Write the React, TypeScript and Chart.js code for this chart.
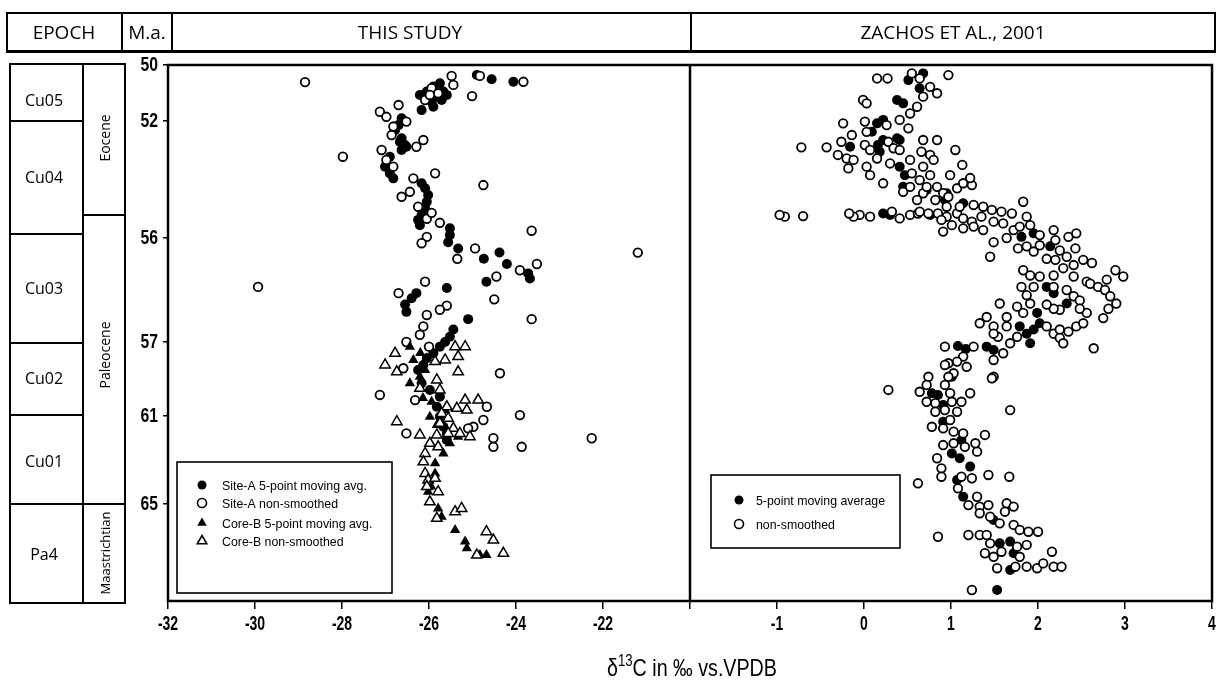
import React, { useEffect, useRef } from 'react';
import { Chart, LinearScale, registerables } from 'chart.js';

Chart.register(...registerables);

// ---------- data (x: δ13C ‰ VPDB, y: age Ma) ----------
const xTickValues = [-32, -30, -28, -26, -24, -22, -20, -1, 0, 1, 2, 3, 4];
const xTickLabels = ['-32', '-30', '-28', '-26', '-24', '-22', '', '-1', '0', '1', '2', '3', '4'];
const yTickValues = [50, 52, 56, 57, 61, 65];
const yTickLabels = ['50', '52', '56', '57', '61', '65'];
// piecewise axis breaks [value, fraction of axis]
const xStops = [[-32, 0], [-20, 0.5], [-2, 0.5], [4, 1]];
const yStops = [[50, 0], [52, 0.1045], [56, 0.3228], [57, 0.5168], [61, 0.6549], [65, 0.819], [69.41, 1]];

const siteAAvg = [[-24.90,50.36],[-24.56,50.51],[-24.06,50.60],[-25.75,50.65],[-25.90,50.77],[-26.05,50.95],[-25.67,50.95],[-26.21,51.07],[-25.59,51.07],[-25.82,51.13],[-25.71,51.25],[-25.94,51.31],[-25.90,51.49],[-26.17,51.61],[-26.63,51.90],[-26.70,52.14],[-26.78,52.31],[-26.63,52.59],[-26.67,52.71],[-26.52,52.88],[-26.55,52.82],[-26.63,52.99],[-26.90,53.22],[-27.01,53.56],[-26.90,53.79],[-26.82,53.96],[-26.17,54.13],[-26.09,54.30],[-26.02,54.53],[-26.05,54.76],[-26.09,54.98],[-26.17,55.21],[-26.25,55.38],[-26.21,55.56],[-25.52,55.67],[-25.52,55.90],[-25.56,56.04],[-25.33,56.10],[-24.74,56.20],[-24.38,56.14],[-24.21,56.25],[-23.72,56.34],[-23.68,56.39],[-24.68,56.42],[-25.59,56.48],[-26.29,56.53],[-26.40,56.58],[-26.55,56.64],[-26.52,56.71],[-25.10,56.78],[-25.44,56.88],[-25.52,56.95],[-25.63,57.00],[-25.75,57.25],[-25.90,57.61],[-26.05,57.88],[-26.13,58.24],[-26.25,58.51],[-26.17,59.23],[-25.98,59.59],[-25.75,59.96],[-25.82,60.50],[-25.75,61.03],[-25.67,61.49],[-25.59,61.79],[-25.59,62.09]];

const siteARaw = [[-25.48,50.39],[-25.44,50.71],[-24.83,50.39],[-23.83,50.60],[-25.01,51.11],[-25.94,50.83],[-25.79,51.01],[-26.09,51.25],[-25.98,51.07],[-27.13,51.67],[-26.70,51.43],[-26.98,51.85],[-26.52,52.02],[-26.82,52.19],[-26.86,52.48],[-26.13,52.65],[-26.29,52.88],[-27.09,52.99],[-26.98,53.33],[-26.82,53.56],[-25.86,53.79],[-26.36,53.96],[-26.44,54.42],[-26.63,54.59],[-26.25,54.93],[-24.75,54.19],[-26.05,55.34],[-25.94,55.14],[-25.75,55.48],[-26.05,55.96],[-26.17,56.05],[-23.64,55.75],[-24.94,56.10],[-25.35,56.20],[-23.91,56.31],[-23.52,56.25],[-24.45,56.37],[-24.50,56.59],[-26.09,56.42],[-26.70,56.53],[-25.59,56.65],[-25.75,56.69],[-26.05,56.74],[-23.64,56.78],[-28.85,50.61],[-27.98,53.22],[-29.93,56.47],[-21.20,56.14],[-26.13,56.85],[-26.21,56.93],[-26.52,57.00],[-26.00,57.25],[-27.13,59.86],[-24.37,58.69],[-26.32,60.14],[-24.67,60.50],[-23.91,60.95],[-26.52,61.79],[-24.75,61.18],[-24.98,61.49],[-25.10,61.56],[-24.52,62.01],[-24.52,62.40],[-23.87,62.40],[-22.26,62.01],[-26.59,58.42]];

const coreBAvg = [[-26.44,57.25],[-26.36,57.97],[-26.09,58.51],[-26.44,59.23],[-26.21,58.88],[-25.94,60.23],[-25.98,61.03],[-25.82,61.41],[-25.52,62.24],[-25.67,62.70],[-25.86,63.15],[-25.86,63.61],[-26.02,64.44],[-25.79,65.20],[-25.71,65.58],[-25.40,66.18],[-25.17,66.71],[-25.13,67.01],[-24.83,67.32],[-24.68,67.32],[-25.63,60.68],[-25.33,61.94],[-26.05,57.88],[-25.75,59.77],[-26.14,60.03],[-26.00,63.90],[-25.95,64.20],[-26.20,57.60]];

const coreBRaw = [[-26.78,57.61],[-27.01,58.24],[-26.74,58.61],[-25.40,57.25],[-25.17,57.25],[-25.33,57.79],[-25.33,58.61],[-25.63,57.97],[-25.86,58.06],[-25.82,59.05],[-26.21,59.50],[-25.75,59.59],[-25.59,60.50],[-25.36,60.58],[-25.17,60.14],[-25.13,60.68],[-24.87,60.14],[-25.71,60.86],[-25.56,61.10],[-25.75,61.33],[-25.44,61.56],[-25.29,61.79],[-25.06,61.94],[-25.56,61.79],[-25.82,61.86],[-25.98,62.24],[-25.79,62.40],[-26.74,61.26],[-26.21,61.86],[-26.09,62.70],[-26.13,63.08],[-26.09,63.61],[-26.02,63.91],[-25.86,63.83],[-26.05,64.21],[-25.79,64.44],[-25.98,64.90],[-25.82,65.65],[-25.40,65.35],[-25.25,65.20],[-24.68,66.26],[-24.52,66.64],[-24.29,67.24],[-24.90,67.32]];

const zachosRaw = [[0.15,50.48],[0.27,50.48],[0.55,50.30],[0.64,50.48],[0.97,50.36],[0.76,50.78],[0.84,51.01],[0.68,51.13],[0.61,51.49],[0.53,51.73],[0.41,51.96],[0.51,52.25],[-0.01,51.25],[0.03,51.37],[-0.24,52.08],[0.01,52.02],[0.26,52.14],[0.03,52.37],[-0.14,52.48],[-0.26,52.71],[-0.43,52.90],[-0.72,52.90],[-0.30,53.16],[-0.20,53.28],[-0.12,53.33],[-0.18,53.62],[0.01,52.82],[0.07,52.99],[0.28,52.71],[0.34,52.93],[0.41,52.99],[0.03,53.56],[0.07,53.85],[0.15,53.28],[0.22,54.13],[0.30,53.45],[0.53,53.33],[0.68,52.65],[0.84,52.65],[0.66,53.05],[0.76,53.16],[0.80,53.33],[0.68,53.56],[0.55,53.79],[0.45,54.42],[0.53,54.25],[0.64,54.02],[0.76,53.85],[0.68,54.47],[0.61,54.70],[0.84,54.25],[0.91,54.47],[0.82,54.70],[0.95,54.93],[0.74,55.16],[0.53,55.21],[0.41,55.33],[0.32,55.10],[0.07,55.27],[-0.05,55.21],[-0.12,55.27],[-0.17,55.16],[-0.70,55.25],[-0.91,55.27],[-0.97,55.21],[0.91,55.78],[0.62,55.16],[0.64,55.10],[0.72,54.25],[0.97,54.59],[1.07,54.30],[1.14,54.13],[1.24,54.19],[0.85,55.16],[0.95,55.27],[1.07,55.16],[1.10,54.93],[1.26,54.87],[1.14,55.33],[1.24,55.44],[1.35,55.27],[1.37,54.93],[1.47,55.04],[1.58,55.10],[1.70,55.16],[1.83,54.76],[1.87,55.27],[0.89,55.38],[1.01,55.56],[1.14,55.67],[1.26,55.61],[1.37,55.73],[1.49,55.44],[1.60,55.50],[1.49,56.04],[1.45,56.18],[1.64,56.00],[1.72,55.73],[1.79,55.61],[1.91,55.56],[2.02,55.90],[2.18,55.73],[2.20,56.02],[1.77,56.10],[1.87,56.08],[1.95,56.13],[2.02,56.07],[2.25,56.12],[2.35,55.96],[2.44,55.84],[2.43,56.10],[2.10,56.20],[2.20,56.21],[2.33,56.18],[2.52,56.21],[2.62,56.24],[2.41,56.26],[2.29,56.29],[1.83,56.31],[1.91,56.36],[2.02,56.37],[2.18,56.36],[2.41,56.37],[2.56,56.42],[2.89,56.31],[2.98,56.37],[2.79,56.40],[2.60,56.44],[2.69,56.47],[2.77,56.50],[2.83,56.56],[2.90,56.63],[2.81,56.68],[2.75,56.77],[1.81,56.47],[1.95,56.47],[2.18,56.47],[2.33,56.50],[2.41,56.56],[2.48,56.60],[2.25,56.69],[2.18,56.68],[2.10,56.64],[1.87,56.55],[1.91,56.63],[1.83,56.72],[1.76,56.66],[1.56,56.63],[2.10,56.85],[2.18,56.92],[2.25,56.88],[2.35,56.90],[2.44,56.85],[2.52,56.82],[2.56,56.72],[2.48,56.68],[2.25,56.96],[2.29,57.07],[2.64,57.34],[1.64,56.76],[1.41,56.76],[1.33,56.82],[1.49,56.85],[1.64,56.85],[1.76,56.95],[1.68,57.07],[1.54,56.95],[1.49,56.92],[1.26,57.25],[1.49,57.97],[1.60,57.61],[0.93,57.25],[1.14,57.79],[1.07,58.06],[0.97,58.15],[1.18,58.34],[1.03,58.69],[0.74,58.88],[0.97,58.88],[1.49,58.88],[0.93,58.24],[1.47,58.96],[0.28,59.59],[0.64,59.69],[0.72,59.32],[0.93,59.32],[0.99,59.77],[0.72,60.23],[0.82,60.31],[1.01,60.23],[1.12,60.23],[1.22,59.77],[0.82,60.77],[0.93,60.68],[1.07,60.77],[1.68,60.68],[0.78,61.49],[0.99,61.18],[0.91,61.56],[1.03,61.71],[1.14,61.79],[1.39,61.86],[0.91,62.32],[1.03,62.24],[1.16,62.40],[1.28,62.24],[1.30,62.62],[0.84,62.92],[0.89,63.38],[0.89,63.76],[1.24,63.83],[1.12,63.76],[1.43,63.68],[1.67,63.76],[0.62,64.06],[1.08,64.29],[1.20,65.05],[1.30,64.67],[1.33,65.12],[1.43,65.05],[1.64,64.97],[1.72,65.12],[1.62,65.35],[1.33,65.42],[1.45,65.58],[1.56,65.88],[1.72,65.95],[1.79,66.18],[1.89,66.26],[2.00,66.26],[1.20,66.41],[1.33,66.41],[1.41,66.41],[0.85,66.49],[1.76,66.94],[1.87,66.86],[1.45,66.79],[1.39,67.24],[1.49,67.40],[1.58,67.17],[1.79,67.40],[1.53,67.92],[1.74,67.85],[1.87,67.85],[1.99,67.92],[2.06,67.70],[2.16,67.17],[2.18,67.85],[2.27,67.85],[1.24,68.91],[1.05,52.99],[1.13,53.50],[0.99,53.85],[1.22,53.95]];

const zachosAvg = [[0.68,50.30],[0.51,50.54],[0.64,50.83],[0.38,51.25],[0.45,51.37],[0.15,52.08],[0.22,51.96],[0.09,52.37],[-0.16,52.88],[0.16,52.82],[0.22,52.65],[0.38,52.59],[0.41,52.65],[0.18,53.05],[0.41,53.56],[0.47,53.85],[0.45,54.25],[0.72,54.36],[0.93,54.70],[0.76,55.21],[0.22,55.16],[0.30,55.21],[0.95,54.47],[1.14,54.81],[1.81,55.96],[1.95,55.84],[2.14,56.08],[2.10,56.47],[2.18,56.53],[2.33,56.63],[1.99,56.72],[2.02,56.82],[1.95,56.88],[1.79,56.85],[1.87,56.92],[1.91,57.07],[1.41,57.25],[1.49,57.43],[1.08,57.22],[1.17,57.38],[0.78,59.77],[0.85,59.86],[1.01,58.88],[0.91,60.41],[0.91,61.26],[1.12,62.09],[1.01,62.70],[1.10,62.92],[1.22,63.30],[1.07,63.91],[1.14,64.67],[1.49,65.73],[1.56,66.79],[1.68,66.71],[1.72,67.24],[1.68,68.00],[1.53,68.91]];

const leftLegend = ['Site-A 5-point moving avg.', 'Site-A non-smoothed', 'Core-B 5-point moving avg.', 'Core-B non-smoothed'];
const rightLegend = ['5-point moving average', 'non-smoothed'];
const zones = ['Cu05', 'Cu04', 'Cu03', 'Cu02', 'Cu01', 'Pa4'];
const epochs = ['Eocene', 'Paleocene', 'Maastrichtian'];

// ---------- custom piecewise-linear scale ----------
class PiecewiseScale extends LinearScale {
  static id = 'piecewise';
  static defaults = {};
  buildTicks() {
    const vals: number[] = (this.options as any).tickValues || [];
    return vals.map((v) => ({ value: v }));
  }
  frac(value: number): number {
    const stops: number[][] = (this.options as any).stops;
    const n = stops.length;
    for (let i = 0; i < n - 1; i++) {
      const [v0, f0] = stops[i];
      const [v1, f1] = stops[i + 1];
      if (value <= v1 || i === n - 2) {
        if (v1 === v0) return f0;
        return f0 + ((value - v0) / (v1 - v0)) * (f1 - f0);
      }
    }
    return 0;
  }
  getPixelForValue(value: number) {
    const f = this.frac(value);
    return this.isHorizontal() ? this.left + f * this.width : this.top + f * this.height;
  }
  getValueForPixel(pixel: number) {
    const f = this.isHorizontal() ? (pixel - this.left) / this.width : (pixel - this.top) / this.height;
    const stops: number[][] = (this.options as any).stops;
    for (let i = 0; i < stops.length - 1; i++) {
      const [v0, f0] = stops[i];
      const [v1, f1] = stops[i + 1];
      if (f <= f1 && f1 > f0) return v0 + ((f - f0) / (f1 - f0)) * (v1 - v0);
    }
    return stops[stops.length - 1][0];
  }
}
Chart.register(PiecewiseScale as any);

const SANS = "'Liberation Sans', Arial, sans-serif";
const HEAD = "'Open Sans', 'Noto Sans', sans-serif";

function drawMarker(ctx: CanvasRenderingContext2D, style: string, filled: boolean, x: number, y: number, r: number) {
  ctx.beginPath();
  if (style === 'circle') {
    ctx.arc(x, y, r, 0, Math.PI * 2);
  } else {
    let rad = 0;
    ctx.moveTo(x + Math.sin(rad) * r, y - Math.cos(rad) * r);
    rad += (2 * Math.PI) / 3;
    ctx.lineTo(x + Math.sin(rad) * r, y - Math.cos(rad) * r);
    rad += (2 * Math.PI) / 3;
    ctx.lineTo(x + Math.sin(rad) * r, y - Math.cos(rad) * r);
    ctx.closePath();
  }
  ctx.fillStyle = filled ? '#000' : '#fff';
  ctx.fill();
  if (!filled) {
    ctx.lineWidth = 1.6;
    ctx.strokeStyle = '#000';
    ctx.stroke();
  }
}

// condensed label drawing (text squeezed horizontally like the source's narrow face)
function narrowText(ctx: CanvasRenderingContext2D, text: string, x: number, y: number, sx: number) {
  ctx.save();
  ctx.translate(x, y);
  ctx.scale(sx, 1);
  ctx.fillText(text, 0, 0);
  ctx.restore();
}

const framePlugin = {
  id: 'frameAndLegends',
  afterDatasetsDraw(chart: any) {
    const { ctx, chartArea: a, scales } = chart;
    ctx.save();
    // legends
    const lx = a.left + 9, ly = a.top + 397;
    ctx.fillStyle = '#fff';
    ctx.fillRect(lx, ly, 215, 131);
    ctx.lineWidth = 1.6;
    ctx.strokeStyle = '#000';
    ctx.strokeRect(lx, ly, 215, 131);
    const lstyles = [['circle', true], ['circle', false], ['triangle', true], ['triangle', false]];
    const lys = [23, 41, 61, 79];
    ctx.font = '13px ' + SANS;
    ctx.textBaseline = 'middle';
    ctx.textAlign = 'left';
    leftLegend.forEach((t, i) => {
      drawMarker(ctx, lstyles[i][0] as string, lstyles[i][1] as boolean, lx + 25, ly + lys[i], lstyles[i][0] === 'circle' ? 4.5 : 5.5);
      ctx.fillStyle = '#000';
      narrowText(ctx, t, lx + 45, ly + lys[i] + 1, 0.95);
    });
    const rx = a.left + 543, ry = a.top + 410;
    ctx.fillStyle = '#fff';
    ctx.fillRect(rx, ry, 189, 73);
    ctx.lineWidth = 1.6;
    ctx.strokeStyle = '#000';
    ctx.strokeRect(rx, ry, 189, 73);
    const rys = [25, 49];
    rightLegend.forEach((t, i) => {
      drawMarker(ctx, 'circle', i === 0, rx + 28, ry + rys[i], 4.5);
      ctx.fillStyle = '#000';
      narrowText(ctx, t, rx + 45, ry + rys[i] + 1, 0.95);
    });
    // frame + divider
    ctx.lineWidth = 2.5;
    ctx.strokeStyle = '#000';
    ctx.strokeRect(a.left, a.top, a.right - a.left, a.bottom - a.top);
    const xd = scales.x.getPixelForValue(-20);
    ctx.beginPath();
    ctx.moveTo(xd, a.top);
    ctx.lineTo(xd, a.bottom);
    ctx.stroke();
    // tick labels
    ctx.fillStyle = '#000';
    ctx.font = 'bold 20px ' + SANS;
    ctx.textBaseline = 'middle';
    ctx.textAlign = 'center';
    xTickValues.forEach((v, i) => {
      const lab = xTickLabels[i];
      if (!lab) return;
      narrowText(ctx, lab, scales.x.getPixelForValue(v), a.bottom + 23, 0.7);
    });
    ctx.font = 'bold 21px ' + SANS;
    ctx.textAlign = 'right';
    yTickValues.forEach((v, i) => {
      narrowText(ctx, yTickLabels[i], a.left - 10, scales.y.getPixelForValue(v), 0.75);
    });
    ctx.restore();
  },
};

const toPts = (arr: number[][]) => arr.map(([x, y]) => ({ x, y }));

export default function App() {
  const ref = useRef<HTMLCanvasElement | null>(null);
  useEffect(() => {
    if (!ref.current) return;
    const openC = { pointStyle: 'circle', pointRadius: 4.3, pointBackgroundColor: '#fff', pointBorderColor: '#000', pointBorderWidth: 1.8 };
    const fillC = { pointStyle: 'circle', pointRadius: 5, pointBackgroundColor: '#000', pointBorderColor: '#000', pointBorderWidth: 0 };
    const openT = { pointStyle: 'triangle', pointRadius: 6, pointBackgroundColor: '#fff', pointBorderColor: '#000', pointBorderWidth: 1.5 };
    const fillT = { pointStyle: 'triangle', pointRadius: 6, pointBackgroundColor: '#000', pointBorderColor: '#000', pointBorderWidth: 0 };
    const chart = new Chart(ref.current, {
      type: 'scatter',
      data: {
        datasets: [
          { label: leftLegend[0], data: toPts(siteAAvg), order: 4, ...fillC } as any,
          { label: leftLegend[1], data: toPts(siteARaw), order: 3, ...openC } as any,
          { label: leftLegend[2], data: toPts(coreBAvg), order: 2, ...fillT } as any,
          { label: leftLegend[3], data: toPts(coreBRaw), order: 1, ...openT } as any,
          { label: rightLegend[0], data: toPts(zachosAvg), order: 6, ...fillC } as any,
          { label: rightLegend[1], data: toPts(zachosRaw), order: 5, ...openC } as any,
        ],
      },
      options: {
        animation: false,
        responsive: false,
        devicePixelRatio: 1,
        events: [],
        layout: { padding: { left: 0, top: 65, right: 9, bottom: 47 } },
        plugins: { legend: { display: false }, tooltip: { enabled: false } },
        scales: {
          x: {
            type: 'piecewise',
            position: 'bottom',
            min: -32,
            max: 4,
            stops: xStops,
            tickValues: xTickValues,
            border: { display: false },
            grid: { display: true, drawOnChartArea: false, drawTicks: true, tickLength: 8, color: '#000', lineWidth: 1.5 },
            ticks: { display: false, autoSkip: false },
            afterFit: (s: any) => { s.height = 40; },
          },
          y: {
            type: 'piecewise',
            position: 'left',
            min: 50,
            max: 69.41,
            stops: yStops,
            tickValues: yTickValues,
            border: { display: false },
            grid: { display: true, drawOnChartArea: false, drawTicks: true, tickLength: 5, color: '#000', lineWidth: 1.5 },
            ticks: { display: false, autoSkip: false },
            afterFit: (s: any) => { s.width = 168; },
          },
        } as any,
      },
      plugins: [framePlugin],
    });
    return () => chart.destroy();
  }, []);

  const abs = (s: React.CSSProperties): React.CSSProperties => ({ position: 'absolute', boxSizing: 'border-box', ...s });
  const vline = (x: number, top: number, h: number, w = 2) => abs({ left: x - w / 2, top, width: w, height: h, background: '#000' });
  const hline = (x0: number, x1: number, y: number, w = 2) => abs({ left: x0, top: y - w / 2, width: x1 - x0, height: w, background: '#000' });
  const center = (x: number, y: number, size: number, family = HEAD): React.CSSProperties =>
    abs({ left: x, top: y, transform: 'translate(-50%, -50%)', fontFamily: family, fontSize: size, whiteSpace: 'nowrap', color: '#000', lineHeight: 1 });

  const zoneLines = [121, 234, 343, 415, 504];
  const zoneCenters = [100, 177, 288, 378, 461, 554];
  const epochCenters = [138, 355, 553];
  const epochSizes = [14, 14, 13];

  return (
    <div style={{ position: 'absolute', left: 0, top: 0, width: 1221, height: 688, background: '#fff', overflow: 'hidden' }}>
      <canvas ref={ref} width={1221} height={688} style={{ position: 'absolute', left: 0, top: 0, width: 1221, height: 688, display: 'block' }} />
      {/* header */}
      <div style={abs({ left: 6, top: 12, width: 1210, height: 41, borderTop: '2px solid #000', borderLeft: '2px solid #000', borderRight: '2px solid #000', borderBottom: '3px solid #000' })} />
      <div style={vline(122, 12, 41)} />
      <div style={vline(172, 12, 41)} />
      <div style={vline(691, 12, 41)} />
      <div style={center(64, 32, 19)}>EPOCH</div>
      <div style={center(147, 32, 19)}>M.a.</div>
      <div style={center(410, 32, 19)}>THIS STUDY</div>
      <div style={center(953, 32, 19)}>ZACHOS ET AL., 2001</div>
      {/* stratigraphic column */}
      <div style={abs({ left: 9, top: 63, width: 117, height: 541, border: '2px solid #000' })} />
      <div style={vline(83, 63, 541)} />
      {zoneLines.map((y) => <div key={'z' + y} style={hline(9, 83, y)} />)}
      {[215, 504].map((y) => <div key={'e' + y} style={hline(83, 126, y)} />)}
      {zones.map((z, i) => <div key={z} style={center(44, zoneCenters[i], 16)}>{z}</div>)}
      {epochs.map((e, i) => (
        <div key={e} style={{ ...center(105, epochCenters[i], epochSizes[i]), transform: 'translate(-50%, -50%) rotate(-90deg)' }}>{e}</div>
      ))}
      {/* x-axis title */}
      <div style={{ ...center(692, 668, 24, SANS), transform: 'translate(-50%, -50%) scaleX(0.82)' }}>
        δ<sup style={{ fontSize: 16, verticalAlign: 'baseline', position: 'relative', top: -10 }}>13</sup>C in ‰ vs.VPDB
      </div>
    </div>
  );
}
